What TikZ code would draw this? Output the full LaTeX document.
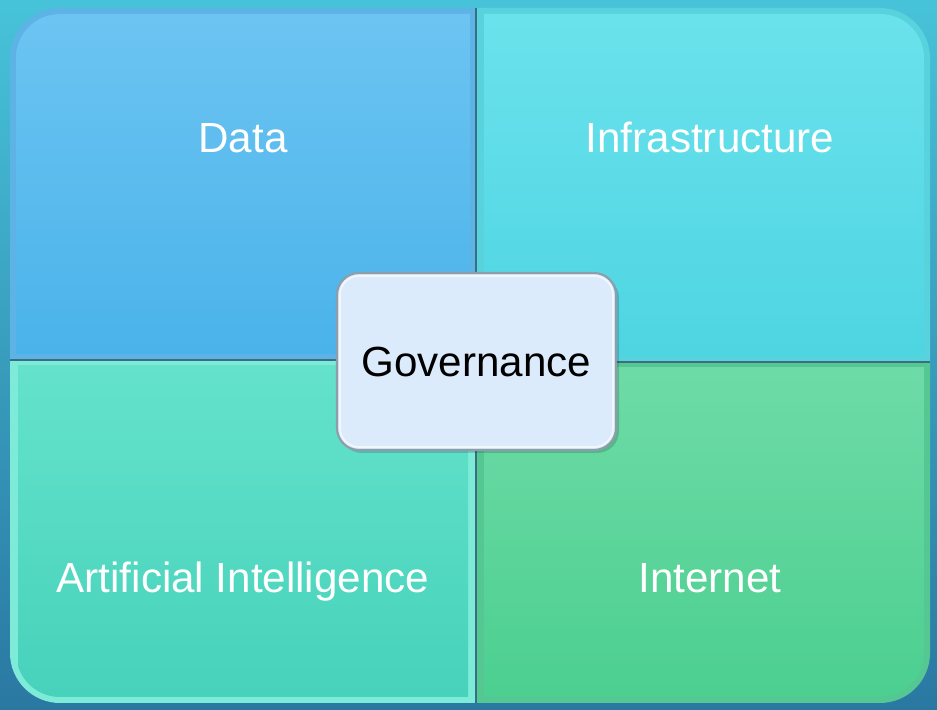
\documentclass[tikz,border=0pt]{standalone}
\usepackage{fontspec}
\setmainfont{Liberation Sans}
\usepackage{xcolor}
\usepackage{tikz}
\usetikzlibrary{shapes,backgrounds,calc}

\definecolor{bgtop}{HTML}{47C3D9}
\definecolor{bgmid}{HTML}{8AD8C6}
\definecolor{bgbot}{HTML}{2A78A2}
\definecolor{datatop}{HTML}{6CC4F2}
\definecolor{databot}{HTML}{4AB3EA}
\definecolor{dataframe}{HTML}{5DB3E6}
\definecolor{infratop}{HTML}{6AE2EC}
\definecolor{infrabot}{HTML}{4ED5E2}
\definecolor{infraframe}{HTML}{58D2DD}
\definecolor{aitop}{HTML}{64E2CB}
\definecolor{aibot}{HTML}{47D2BB}
\definecolor{aiframe}{HTML}{7EEBD8}
\definecolor{nettop}{HTML}{6EDBA6}
\definecolor{netbot}{HTML}{4CCF91}
\definecolor{netframe}{HTML}{55C793}
\definecolor{govfill}{HTML}{DCEBFB}
\definecolor{govline}{HTML}{8E9DAA}
\definecolor{divline}{HTML}{3A6F82}

\begin{document}
\begin{tikzpicture}[x=0.02cm,y=0.02cm]
        % Styles for the four parts and the middle box
        \tikzstyle{quadtext}=[text=white, anchor=base, font=\fontsize{24}{28}\selectfont];
        \tikzstyle{outer box}=[rounded corners=1cm];
        \tikzstyle{inner box}=[rounded corners=0.88cm];
        \tikzstyle{gov box}=[draw=govline, line width=1.2pt, fill=govfill, rounded corners=0.44cm,
            minimum width=5.58cm, minimum height=3.54cm, inner sep=0pt,
            font=\fontsize{24}{28}\selectfont];
        \tikzstyle{divider}=[draw=divline, line width=1.2pt];

        \useasboundingbox (0,0) rectangle (937,710);

        % Background
        \shade[top color=bgtop, middle color=bgmid, bottom color=bgbot] (0,0) rectangle (937,710);

        % Data
        \begin{scope}
            \clip (10,350) rectangle (476,702);
            \fill[dataframe, outer box] (10,7) rectangle (930,702);
            \clip[inner box] (16,13) rectangle (924,696);
            \shade[top color=datatop, bottom color=databot] (16,356) rectangle (470,696);
        \end{scope}

        % Infrastructure
        \begin{scope}
            \clip (476,348) rectangle (930,702);
            \fill[infraframe, outer box] (10,7) rectangle (930,702);
            \clip[inner box] (16,13) rectangle (924,696);
            \shade[top color=infratop, bottom color=infrabot] (484,354) rectangle (924,696);
        \end{scope}

        % Artificial Intelligence
        \begin{scope}
            \clip (10,7) rectangle (476,350);
            \fill[aiframe, outer box] (10,7) rectangle (930,702);
            \clip[inner box] (16,13) rectangle (924,696);
            \shade[top color=aitop, bottom color=aibot] (18,13) rectangle (468,344);
        \end{scope}

        % Internet
        \begin{scope}
            \clip (476,7) rectangle (930,348);
            \fill[netframe, outer box] (10,7) rectangle (930,702);
            \clip[inner box] (16,13) rectangle (924,696);
            \shade[top color=nettop, bottom color=netbot] (484,13) rectangle (924,342);
        \end{scope}

        % Lines between the parts
        \coordinate (M) at (476,350);
        \draw[divider] (476,7) -- (476,702);
        \draw[divider] (10,350) -- (M);
        \draw[divider] (476,348) -- (930,348);

        % Labels
        \node[quadtext] (data) at (243,557) {Data};
        \node[quadtext] (infra) at (710,557) {Infrastructure};
        \node[quadtext] (ai) at (243,117) {Artificial Intelligence};
        \node[quadtext] (internet) at (710,117) {Internet};

        % Governance in the middle
        \fill[black, opacity=0.15, rounded corners=0.44cm] (340,257) rectangle (619,434);
        \node[gov box] (gov) at (476.5,348.5) {Governance};
        \draw[white, opacity=0.6, line width=1pt, rounded corners=0.38cm]
            ($(gov.south west)+(4,4)$) rectangle ($(gov.north east)+(-4,-4)$);

    \end{tikzpicture}
\end{document}
